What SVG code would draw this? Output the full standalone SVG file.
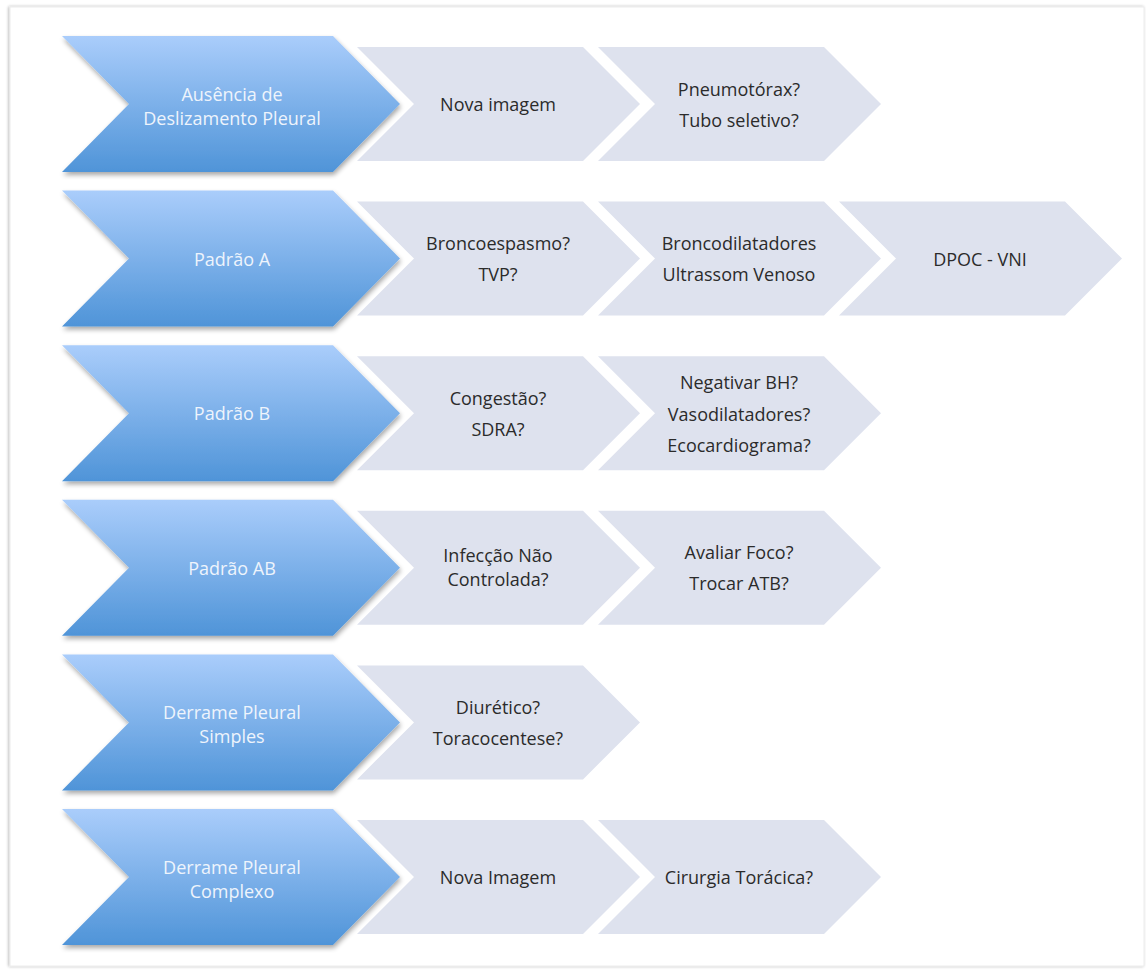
<svg xmlns="http://www.w3.org/2000/svg" width="1146" height="973" viewBox="0 0 1146 973">
<defs>
  <linearGradient id="blueGrad" x1="0" y1="0" x2="0" y2="1">
    <stop offset="0" stop-color="#aacdfb"/>
    <stop offset="1" stop-color="#4f94d8"/>
  </linearGradient>
  <filter id="shadow" x="-5%" y="-10%" width="115%" height="125%">
    <feGaussianBlur in="SourceAlpha" stdDeviation="2.5"/>
    <feOffset dx="1" dy="3" result="b"/>
    <feComponentTransfer><feFuncA type="linear" slope="0.35"/></feComponentTransfer>
    <feMerge><feMergeNode/><feMergeNode in="SourceGraphic"/></feMerge>
  </filter>
  <filter id="frameShadow" x="-2%" y="-2%" width="104%" height="104%">
    <feGaussianBlur in="SourceAlpha" stdDeviation="1.5"/>
    <feOffset dx="-1" dy="0"/>
    <feComponentTransfer><feFuncA type="linear" slope="0.3"/></feComponentTransfer>
    <feMerge><feMergeNode/><feMergeNode in="SourceGraphic"/></feMerge>
  </filter>
  <path id="blueShape" d="M62,0 H333 L400,68 L333,136 H62 L129,68 Z"/>
  <path id="grayShape" d="M0,11 H226 L283,68 L226,125 H0 L57,68 Z"/>
</defs>
<style>
  .blue { fill: url(#blueGrad); filter: url(#shadow); }
  .gray { fill: #dee2ee; }
  .bt { font-family: "Open Sans", "Noto Sans", sans-serif; font-size: 18px; fill: #eef4fc; text-anchor: middle; }
  .gt { font-family: "Open Sans", "Noto Sans", sans-serif; font-size: 18px; fill: #2b2b2b; text-anchor: middle; }
</style>
<rect x="0" y="0" width="1146" height="973" fill="#ffffff"/>
<rect x="10" y="7" width="1134" height="959" fill="#ffffff" stroke="#ececec" stroke-width="1" filter="url(#frameShadow)"/>

<g id="connectors"/>

<!-- Row 1 -->
<g transform="translate(0,36)">
  <g id="n-ausencia"><use href="#blueShape" class="blue"/>
    <text class="bt" x="232" y="64.5">Ausência de</text>
    <text class="bt" x="232" y="89">Deslizamento Pleural</text></g>
  <g id="n-nova-imagem-1" transform="translate(357,0)"><use href="#grayShape" class="gray"/>
    <text class="gt" x="141" y="75">Nova imagem</text></g>
  <g id="n-pneumotorax" transform="translate(598,0)"><use href="#grayShape" class="gray"/>
    <text class="gt" x="141" y="59.5">Pneumotórax?</text>
    <text class="gt" x="141" y="90.5">Tubo seletivo?</text></g>
</g>

<!-- Row 2 -->
<g transform="translate(0,190.6)">
  <g id="n-padrao-a"><use href="#blueShape" class="blue"/>
    <text class="bt" x="232" y="75">Padrão A</text></g>
  <g id="n-broncoespasmo" transform="translate(357,0)"><use href="#grayShape" class="gray"/>
    <text class="gt" x="141" y="59.5">Broncoespasmo?</text>
    <text class="gt" x="141" y="90.5">TVP?</text></g>
  <g id="n-broncodilatadores" transform="translate(598,0)"><use href="#grayShape" class="gray"/>
    <text class="gt" x="141" y="59.5">Broncodilatadores</text>
    <text class="gt" x="141" y="90.5">Ultrassom Venoso</text></g>
  <g id="n-dpoc" transform="translate(839,0)"><use href="#grayShape" class="gray"/>
    <text class="gt" x="141" y="75">DPOC - VNI</text></g>
</g>

<!-- Row 3 -->
<g transform="translate(0,345.2)">
  <g id="n-padrao-b"><use href="#blueShape" class="blue"/>
    <text class="bt" x="232" y="75">Padrão B</text></g>
  <g id="n-congestao" transform="translate(357,0)"><use href="#grayShape" class="gray"/>
    <text class="gt" x="141" y="59.5">Congestão?</text>
    <text class="gt" x="141" y="90.5">SDRA?</text></g>
  <g id="n-negativar" transform="translate(598,0)"><use href="#grayShape" class="gray"/>
    <text class="gt" x="141" y="44">Negativar BH?</text>
    <text class="gt" x="141" y="75.5">Vasodilatadores?</text>
    <text class="gt" x="141" y="107">Ecocardiograma?</text></g>
</g>

<!-- Row 4 -->
<g transform="translate(0,499.8)">
  <g id="n-padrao-ab"><use href="#blueShape" class="blue"/>
    <text class="bt" x="232" y="75">Padrão AB</text></g>
  <g id="n-infeccao" transform="translate(357,0)"><use href="#grayShape" class="gray"/>
    <text class="gt" x="141" y="62.5">Infecção Não</text>
    <text class="gt" x="141" y="86.5">Controlada?</text></g>
  <g id="n-avaliar" transform="translate(598,0)"><use href="#grayShape" class="gray"/>
    <text class="gt" x="141" y="59.5">Avaliar Foco?</text>
    <text class="gt" x="141" y="90.5">Trocar ATB?</text></g>
</g>

<!-- Row 5 -->
<g transform="translate(0,654.4)">
  <g id="n-derrame-simples"><use href="#blueShape" class="blue"/>
    <text class="bt" x="232" y="64.5">Derrame Pleural</text>
    <text class="bt" x="232" y="89">Simples</text></g>
  <g id="n-diuretico" transform="translate(357,0)"><use href="#grayShape" class="gray"/>
    <text class="gt" x="141" y="59.5">Diurético?</text>
    <text class="gt" x="141" y="90.5">Toracocentese?</text></g>
</g>

<!-- Row 6 -->
<g transform="translate(0,809)">
  <g id="n-derrame-complexo"><use href="#blueShape" class="blue"/>
    <text class="bt" x="232" y="64.5">Derrame Pleural</text>
    <text class="bt" x="232" y="89">Complexo</text></g>
  <g id="n-nova-imagem-2" transform="translate(357,0)"><use href="#grayShape" class="gray"/>
    <text class="gt" x="141" y="75">Nova Imagem</text></g>
  <g id="n-cirurgia" transform="translate(598,0)"><use href="#grayShape" class="gray"/>
    <text class="gt" x="141" y="75">Cirurgia Torácica?</text></g>
</g>
</svg>
